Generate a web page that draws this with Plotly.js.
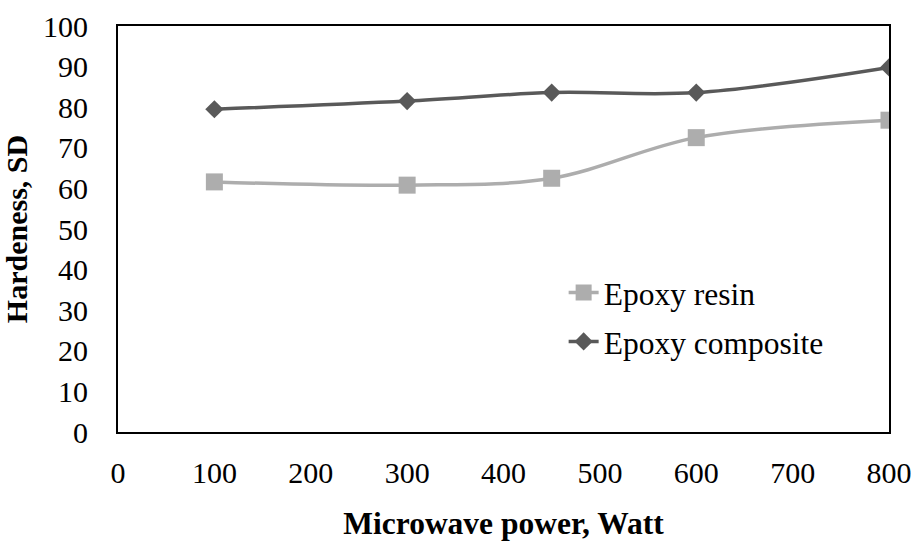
<!DOCTYPE html>
<html>
<head>
<meta charset="utf-8">
<script src="https://cdn.plot.ly/plotly-3.0.1.min.js"></script>
<style>html,body{margin:0;padding:0;background:#fff;}#chart{width:917px;height:543px;}</style>
</head>
<body>
<div id="chart"></div>
<script>
const power = [100, 300, 450, 600, 800];
const epoxyResin = [61.6, 60.8, 62.5, 72.5, 76.8];
const epoxyComposite = [79.5, 81.5, 83.6, 83.6, 89.8];
const seriesNames = ["Epoxy resin", "Epoxy composite"];
const xTicks = [0, 100, 200, 300, 400, 500, 600, 700, 800];
const yTicks = [0, 10, 20, 30, 40, 50, 60, 70, 80, 90, 100];

const FONT = "Liberation Serif, Times New Roman, serif";

const traces = [
  {
    x: power, y: epoxyResin, name: seriesNames[0], type: "scatter", mode: "lines+markers",
    line: {color: "#adadad", width: 3.5, shape: "spline", smoothing: 1},
    marker: {symbol: "square", size: 17, color: "#adadad"},
    legendgroup: "a"
  },
  {
    x: power, y: epoxyComposite, name: seriesNames[1], type: "scatter", mode: "lines+markers",
    line: {color: "#595959", width: 3.5, shape: "spline", smoothing: 1},
    marker: {symbol: "diamond", size: 14, color: "#595959"},
    legendgroup: "b"
  }
];

const layout = {
  width: 917, height: 543,
  margin: {l: 118, r: 28, t: 26, b: 111},
  paper_bgcolor: "#fff", plot_bgcolor: "#fff",
  font: {family: FONT, size: 30, color: "#000"},
  showlegend: true,
  legend: {
    x: 0.578, y: 0.41, xanchor: "left", yanchor: "top",
    bgcolor: "rgba(0,0,0,0)", font: {family: FONT, size: 31.5, color: "#000"},
    traceorder: "grouped", tracegroupgap: 5
  },
  xaxis: {
    range: [0, 800], tickvals: xTicks, ticktext: xTicks.map(String),
    showgrid: false, zeroline: false, showline: true, linecolor: "#000", linewidth: 2, mirror: true,
    ticks: "", ticklabelstandoff: 13,
    tickfont: {family: FONT, size: 30, color: "#000"},
    title: {text: "<b>Microwave power, Watt</b>", font: {family: FONT, size: 31.5, color: "#000"}, standoff: 24}
  },
  yaxis: {
    range: [0, 100], tickvals: yTicks, ticktext: yTicks.map(String),
    showgrid: false, zeroline: false, showline: true, linecolor: "#000", linewidth: 2, mirror: true,
    ticks: "", ticklabelstandoff: 22,
    tickfont: {family: FONT, size: 30, color: "#000"},
    title: {text: "<b>Hardeness, SD</b>", font: {family: FONT, size: 30, color: "#000"}, standoff: 14}
  }
};

Plotly.newPlot("chart", traces, layout, {displayModeBar: false, staticPlot: true});
</script>
</body>
</html>
